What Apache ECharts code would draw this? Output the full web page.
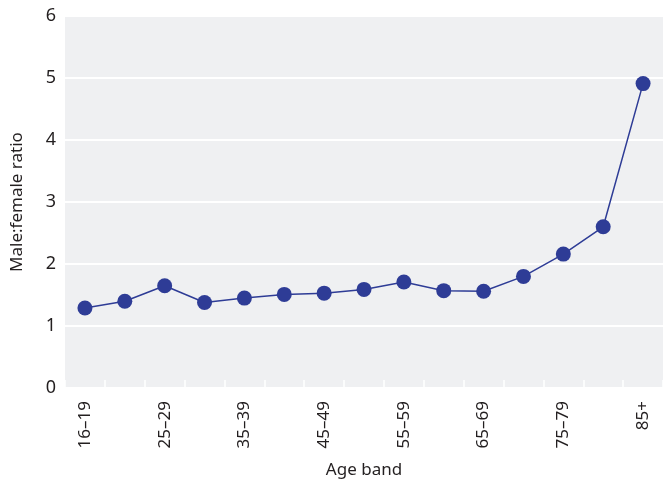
<!DOCTYPE html>
<html>
<head>
<meta charset="utf-8">
<script src="https://cdn.jsdelivr.net/npm/echarts@6/dist/echarts.min.js"></script>
<style>html,body{margin:0;padding:0;background:#fff;}#c{width:670px;height:484px;}</style>
</head>
<body>
<div id="c"></div>
<script>
const categories = ['16–19','20–24','25–29','30–34','35–39','40–44','45–49','50–54','55–59','60–64','65–69','70–74','75–79','80–84','85+'];
const ratios = [1.29,1.40,1.65,1.38,1.45,1.51,1.53,1.59,1.71,1.57,1.56,1.80,2.16,2.60,4.91];
const yTicks = [0,1,2,3,4,5,6];

const chart = echarts.init(document.getElementById('c'), null, {renderer:'canvas'});
const font = '"Noto Sans", "Open Sans", sans-serif';
chart.setOption({
  animation: false,
  grid: {left: 65, right: 7, top: 16, bottom: 96, show: true, backgroundColor: '#eff0f2', borderWidth: 0},
  xAxis: {
    type: 'category',
    data: categories,
    boundaryGap: true,
    name: 'Age band',
    nameLocation: 'middle',
    nameGap: 74,
    nameTextStyle: {fontFamily: font, fontSize: 17, color: '#231f20'},
    axisLine: {show: false},
    axisTick: {show: true, inside: true, length: 8, interval: 0, lineStyle: {color: '#ffffff', width: 1.5}},
    axisLabel: {interval: 1, rotate: 90, margin: 13, fontFamily: font, fontSize: 17, color: '#231f20'},
    splitLine: {show: false}
  },
  yAxis: {
    type: 'value',
    min: yTicks[0],
    max: yTicks[yTicks.length-1],
    interval: 1,
    name: 'Male:female ratio',
    nameLocation: 'middle',
    nameGap: 39,
    nameTextStyle: {fontFamily: font, fontSize: 17, color: '#231f20'},
    axisLine: {show: false},
    axisTick: {show: false},
    axisLabel: {margin: 9, fontFamily: font, fontSize: 18, color: '#231f20'},
    splitLine: {show: true, lineStyle: {color: '#ffffff', width: 2}}
  },
  series: [{
    type: 'line',
    data: ratios,
    symbol: 'circle',
    symbolSize: 15,
    itemStyle: {color: '#2e3c96'},
    lineStyle: {color: '#2e3c96', width: 1.5}
  }]
});
</script>
</body>
</html>
